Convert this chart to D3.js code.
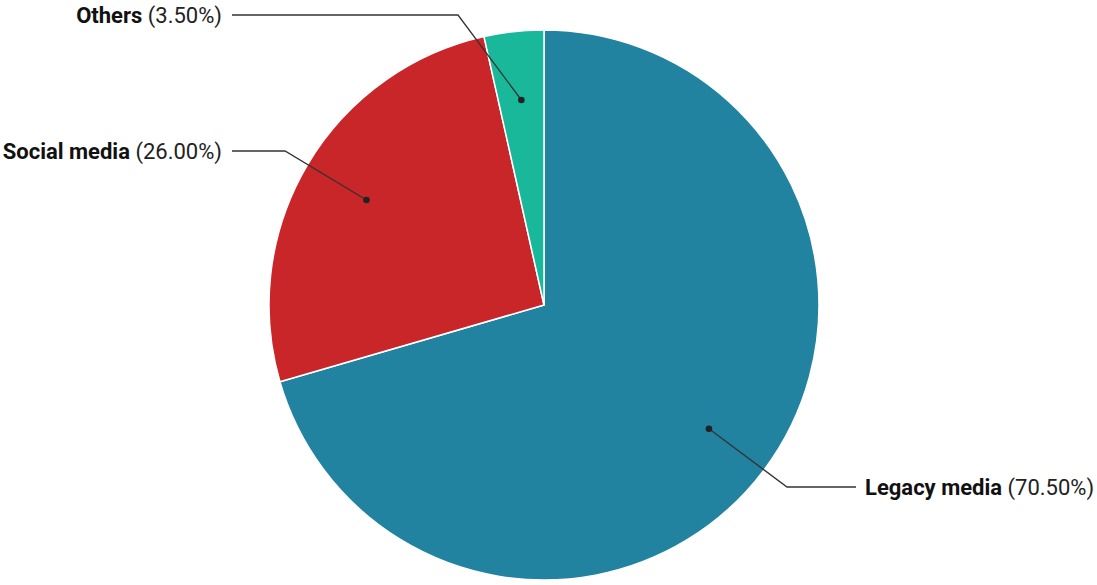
<!DOCTYPE html>
<html>
<head>
<meta charset="utf-8">
<script src="https://cdn.jsdelivr.net/npm/d3@7"></script>
<style>
  html, body { margin: 0; padding: 0; background: #fff; }
  svg { display: block; font-family: Roboto, "Noto Sans", sans-serif; }
</style>
</head>
<body>
<svg id="chart" width="1097" height="585"></svg>
<script>
const categories = ["Legacy media", "Social media", "Others"];
const values = [70.5, 26.0, 3.5];
const colors = ["#2283a1", "#c9262a", "#1ab89b"];

// label layout (elbow point and label side)
const labelLayout = [
  { elbow: [787, 487], lineEnd: 856, side: "right" },
  { elbow: [285, 151], lineEnd: 232, side: "left" },
  { elbow: [458, 15],  lineEnd: 232, side: "left" }
];

const width = 1097, height = 585;
const cx = 544, cy = 305, radius = 275;

const svg = d3.select("#chart");
const g = svg.append("g").attr("transform", `translate(${cx},${cy})`);

const data = categories.map((c, i) => ({ name: c, value: values[i], color: colors[i] }));

const pie = d3.pie().value(d => d.value).sort(null);
const arcs = pie(data);
const arc = d3.arc().innerRadius(0).outerRadius(radius);
const dotArc = d3.arc().innerRadius(radius * 0.75).outerRadius(radius * 0.75);

g.selectAll("path.slice")
  .data(arcs)
  .join("path")
  .attr("class", "slice")
  .attr("d", arc)
  .attr("fill", d => d.data.color)
  .attr("stroke", "#ffffff")
  .attr("stroke-width", 1.5)
  .attr("stroke-linejoin", "round");

const fmt = d3.format(".2f");

arcs.forEach((a, i) => {
  const L = labelLayout[i];
  const c = dotArc.centroid(a);
  const dot = [cx + c[0], cy + c[1]];
  svg.append("polyline")
    .attr("points", [dot, L.elbow, [L.lineEnd, L.elbow[1]]].map(p => p.join(",")).join(" "))
    .attr("fill", "none")
    .attr("stroke", "#333333")
    .attr("stroke-width", 1.3);
  svg.append("circle")
    .attr("cx", dot[0]).attr("cy", dot[1]).attr("r", 3.3)
    .attr("fill", "#222222");
  const tx = L.side === "left" ? L.lineEnd - 10 : L.lineEnd + 9;
  const t = svg.append("text")
    .attr("x", tx)
    .attr("y", L.elbow[1])
    .attr("dy", "0.35em")
    .attr("text-anchor", L.side === "left" ? "end" : "start")
    .attr("font-size", 22)
    .attr("fill", "#111111");
  t.append("tspan").attr("font-weight", 700).text(a.data.name);
  t.append("tspan").attr("font-weight", 400).attr("fill", "#222").text(" (" + fmt(a.data.value) + "%)");
});
</script>
</body>
</html>
